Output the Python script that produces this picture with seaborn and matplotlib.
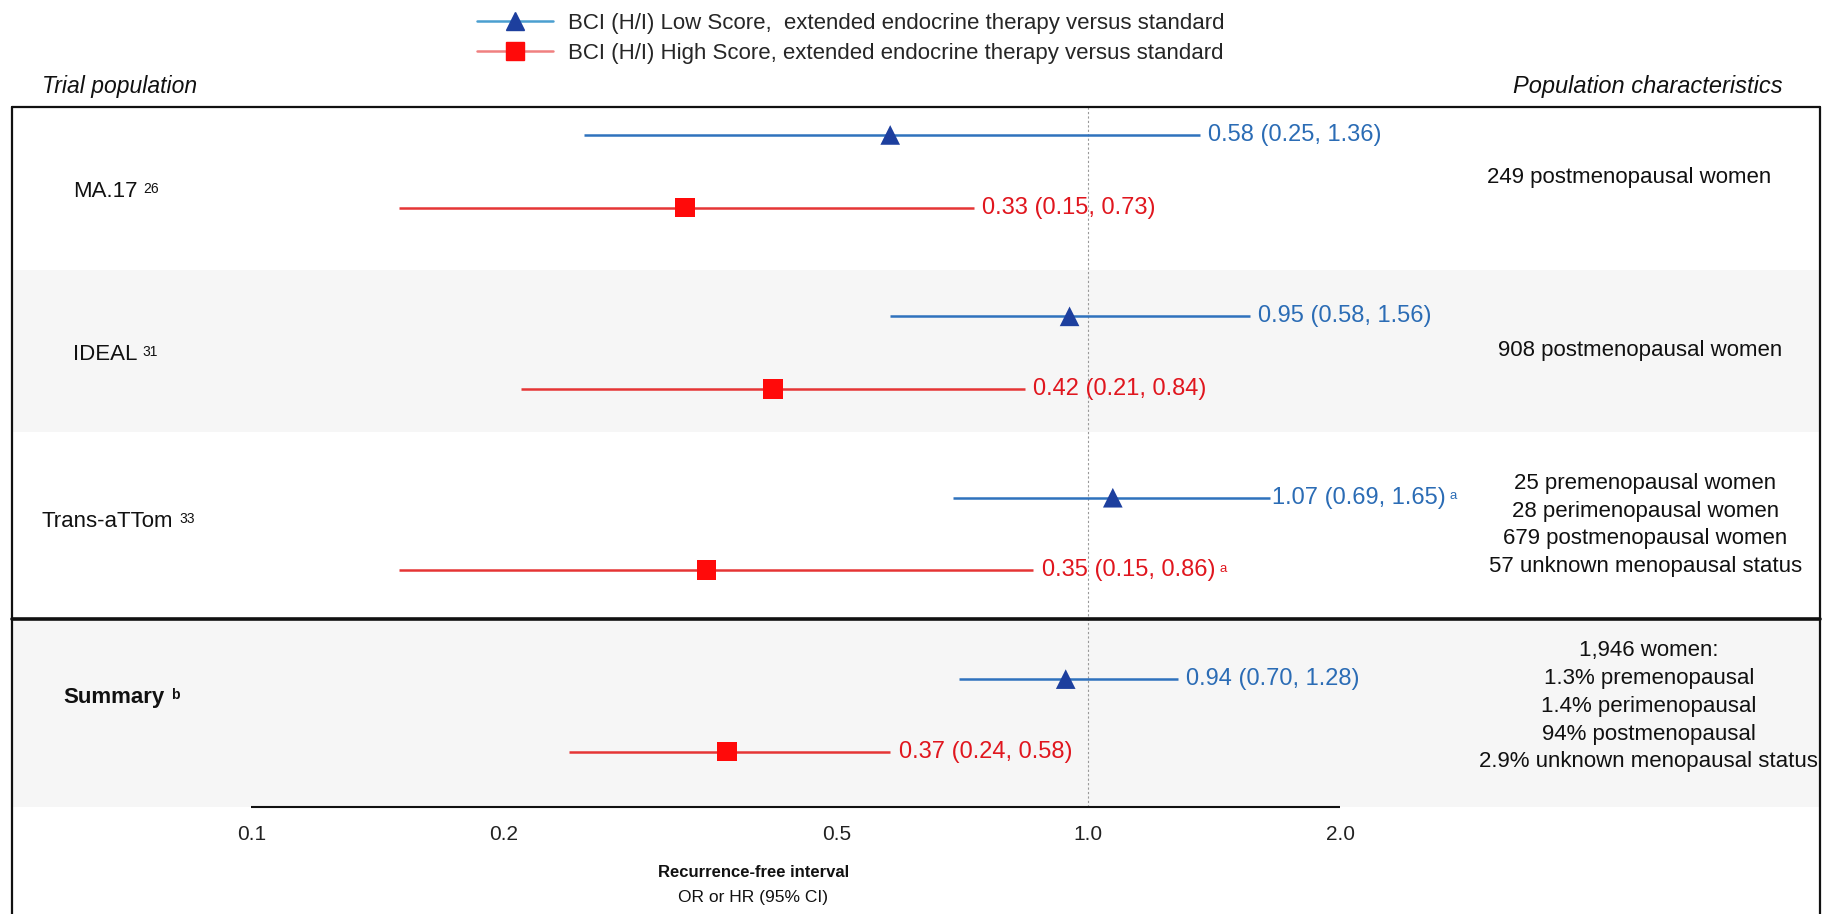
import matplotlib
matplotlib.use('Agg')
import matplotlib.pyplot as plt
import matplotlib.transforms as mtransforms
from matplotlib.lines import Line2D
import pandas as pd
import seaborn as sns

# data
trials = ['MA.17', 'IDEAL', 'Trans-aTTom', 'Summary']
trial_refs = ['26', '31', '33', 'b']
low_hr = [0.58, 0.95, 1.07, 0.94]
low_lo = [0.25, 0.58, 0.69, 0.70]
low_hi = [1.36, 1.56, 1.65, 1.28]
high_hr = [0.33, 0.42, 0.35, 0.37]
high_lo = [0.15, 0.21, 0.15, 0.24]
high_hi = [0.73, 0.84, 0.86, 0.58]
notes = ['', '', 'a', '']
populations = [
    '249 postmenopausal women',
    '908 postmenopausal women',
    '25 premenopausal women\n28 perimenopausal women\n679 postmenopausal women\n57 unknown menopausal status',
    '1,946 women:\n1.3% premenopausal\n1.4% perimenopausal\n94% postmenopausal\n2.9% unknown menopausal status',
]
ticks = [0.1, 0.2, 0.5, 1.0, 2.0]
tick_labels = ['0.1', '0.2', '0.5', '1.0', '2.0']
series = ['BCI (H/I) Low Score,  extended endocrine therapy versus standard',
          'BCI (H/I) High Score, extended endocrine therapy versus standard']

BLUE_LINE, BLUE_MARK, BLUE_TEXT = '#2f72bd', '#1d3f9e', '#2b6cb5'
RED_LINE, RED_MARK, RED_TEXT = '#e53535', '#ff0a0a', '#e0161e'
GAP = 0.4  # offset between low and high score rows


def main():
    rows = []
    for i, t in enumerate(trials):
        rows.append(dict(trial=t, series=series[0], y=i, hr=low_hr[i], lo=low_lo[i], hi=low_hi[i]))
        rows.append(dict(trial=t, series=series[1], y=i + GAP, hr=high_hr[i], lo=high_lo[i], hi=high_hi[i]))
    df = pd.DataFrame(rows)

    sns.set_theme(style='white')
    plt.rcParams['font.family'] = ['Liberation Sans Narrow', 'Liberation Sans', 'DejaVu Sans']

    fig = plt.figure(figsize=(18.24, 9.14), dpi=100)
    ax = fig.add_axes([0, 0, 1, 1])
    ax.set_xscale('log')
    ax.set_xlim(0.0501, 7.57)
    ax.set_ylim(4.295, -0.744)
    ax.axis('off')
    blend = mtransforms.blended_transform_factory(ax.transAxes, ax.transData)

    box_l, box_r, box_top = 0.0064, 0.998, -0.154
    axis_y = 3.705

    # shaded bands
    ax.axhspan(0.744, 1.64, xmin=box_l, xmax=box_r, color='#f6f6f6', lw=0, zorder=0)
    ax.axhspan(2.667, axis_y, xmin=box_l, xmax=box_r, color='#f6f6f6', lw=0, zorder=0)

    # frame
    ax.plot([box_l, box_r], [box_top, box_top], color='#111', lw=1.6, transform=blend, clip_on=False)
    ax.plot([box_l, box_l], [box_top, 4.4], color='#111', lw=1.6, transform=blend, clip_on=False)
    ax.plot([box_r, box_r], [box_top, 4.4], color='#111', lw=1.6, transform=blend, clip_on=False)
    ax.plot([box_l, box_r], [2.667, 2.667], color='#111', lw=2.6, transform=blend)

    # reference line and x axis
    ax.vlines(1.0, box_top, axis_y, color='#999999', lw=0.8, linestyles=(0, (2, 2)), zorder=1)
    ax.hlines(axis_y, ticks[0], ticks[-1], color='#111', lw=1.5)
    for t, lab in zip(ticks, tick_labels):
        ax.text(t, 3.855, lab, ha='center', va='center', fontsize=15, color='#222')
    ax.text(0.413, 4.064, 'Recurrence-free interval', transform=blend, ha='center', va='center',
            fontsize=12, weight='bold', color='#111')
    ax.text(0.413, 4.205, 'OR or HR (95% CI)', transform=blend, ha='center', va='center',
            fontsize=12.5, color='#111')

    # CI lines
    low = df[df['series'] == series[0]]
    high = df[df['series'] == series[1]]
    ax.hlines(low['y'], low['lo'], low['hi'], color=BLUE_LINE, lw=1.8, zorder=2)
    ax.hlines(high['y'], high['lo'], high['hi'], color=RED_LINE, lw=1.8, zorder=2)

    sns.scatterplot(data=df, x='hr', y='y', hue='series', style='series',
                    palette={series[0]: BLUE_MARK, series[1]: RED_MARK},
                    markers={series[0]: '^', series[1]: 's'},
                    s=200, linewidth=0, legend=False, zorder=3, ax=ax)
    ax.set_xlabel('')
    ax.set_ylabel('')

    # value labels
    for i in range(len(trials)):
        for hr, lo, hi, y, col in [(low_hr[i], low_lo[i], low_hi[i], i, BLUE_TEXT),
                                   (high_hr[i], high_lo[i], high_hi[i], i + GAP, RED_TEXT)]:
            off = 1 if (col == BLUE_TEXT and notes[i]) else 6
            txt = ax.annotate(f'{hr:.2f} ({lo:.2f}, {hi:.2f})', xy=(hi, y), xytext=(off, 0),
                              textcoords='offset points', ha='left', va='center',
                              fontsize=17, color=col)
            if notes[i]:
                ax.annotate(notes[i], xy=(1, 0.85), xycoords=txt, xytext=(3, 0),
                            textcoords='offset points', ha='left', va='top',
                            fontsize=9.5, color=col)

    # row labels
    label_x = [0.040, 0.040, 0.023, 0.035]
    label_dy = [0.31, 0.21, 0.13, 0.10]
    for i, t in enumerate(trials):
        bold = t == 'Summary'
        lab = ax.text(label_x[i], i + label_dy[i], t, transform=blend, ha='left', va='center',
                      fontsize=16, weight='bold' if bold else 'normal', color='#111')
        ax.annotate(trial_refs[i], xy=(1, 0.95), xycoords=lab, xytext=(4, 0),
                    textcoords='offset points', ha='left', va='top', fontsize=10,
                    weight='bold' if bold else 'normal', color='#111')

    # population characteristics
    pop_x = [0.893, 0.899, 0.902, 0.904]
    pop_dy = [0.237, 0.19, 0.15, 0.15]
    for i, p in enumerate(populations):
        ax.text(pop_x[i], i + pop_dy[i], p, transform=blend, ha='center', va='center',
                fontsize=16, linespacing=1.42, color='#111')

    fig.text(0.023, 1 - 87 / 914, 'Trial population', style='italic', fontsize=16.5,
             ha='left', va='center', color='#111')
    fig.text(0.9775, 1 - 87 / 914, 'Population characteristics', style='italic', fontsize=17,
             ha='right', va='center', color='#111')

    handles = [
        Line2D([], [], color='#4a9fd0', lw=1.8, marker='^', markersize=13,
               markerfacecolor=BLUE_MARK, markeredgecolor=BLUE_MARK),
        Line2D([], [], color='#f08080', lw=1.8, marker='s', markersize=13,
               markerfacecolor=RED_MARK, markeredgecolor=RED_MARK),
    ]
    fig.legend(handles, series, loc='center left', bbox_to_anchor=(0.2615, 0.958),
               frameon=False, handlelength=3.4, handletextpad=0.7, labelspacing=0.4,
               borderpad=0, borderaxespad=0, fontsize=16)

    fig.savefig('out.png', dpi=100)
    plt.close(fig)


if __name__ == '__main__':
    main()
